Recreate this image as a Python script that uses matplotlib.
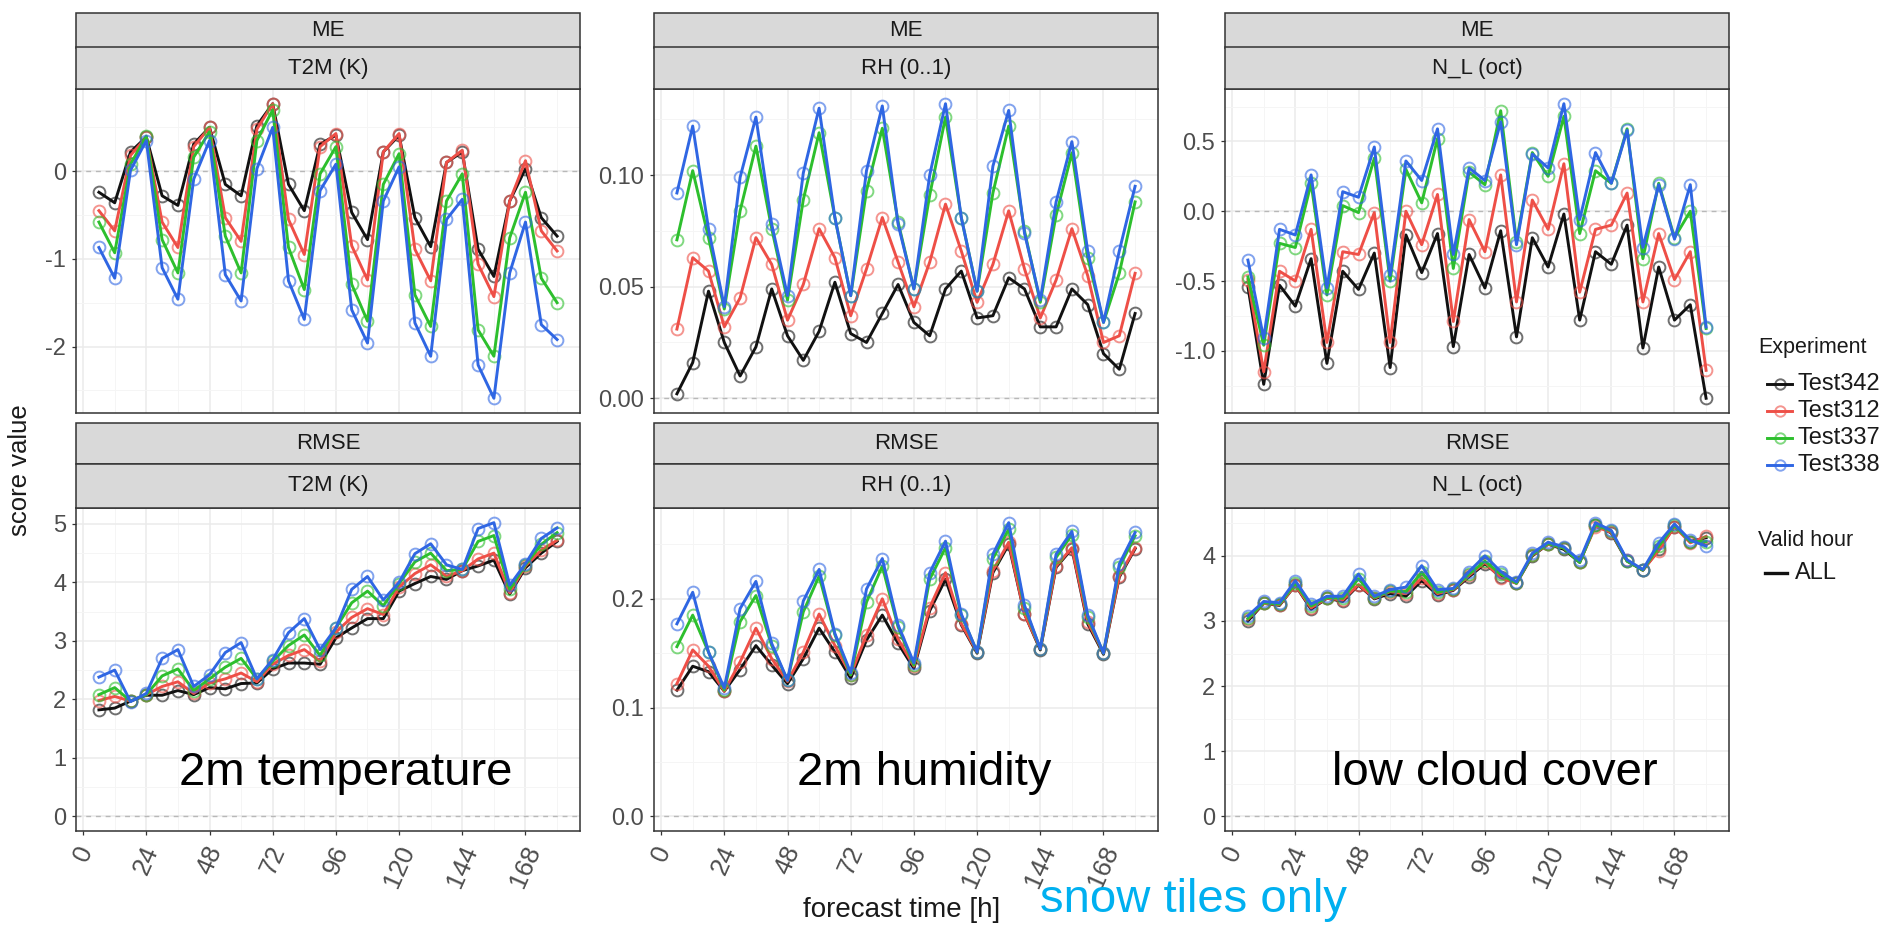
import matplotlib
matplotlib.use('Agg')
import matplotlib.pyplot as plt
from matplotlib.patches import Rectangle
from matplotlib.lines import Line2D
import numpy as np

plt.rcParams['font.family'] = ['Liberation Sans', 'DejaVu Sans']
plt.rcParams['axes.unicode_minus'] = False

# forecast lead times (h)
hours = list(range(6, 181, 6))
experiments = ['Test342', 'Test312', 'Test337', 'Test338']
exp_colors = ['#111111', '#EE4F47', '#2DBF2D', '#2F66E3']

# ---- ME, T2M (K)
me_t2m_342 = [-0.24, -0.36, 0.22, 0.39, -0.28, -0.39, 0.31, 0.50, -0.15, -0.28, 0.52, 0.77, -0.15, -0.45, 0.31,
              0.41, -0.47, -0.78, 0.22, 0.41, -0.53, -0.86, 0.10, 0.22, -0.89, -1.20, -0.34, 0.03, -0.53, -0.74]
me_t2m_312 = [-0.45, -0.68, 0.18, 0.39, -0.58, -0.87, 0.28, 0.50, -0.53, -0.80, 0.48, 0.77, -0.55, -0.95, 0.28,
              0.43, -0.85, -1.24, 0.22, 0.43, -0.89, -1.25, 0.10, 0.24, -1.06, -1.43, -0.34, 0.12, -0.68, -0.91]
me_t2m_337 = [-0.58, -0.93, 0.08, 0.40, -0.78, -1.16, 0.16, 0.45, -0.74, -1.16, 0.35, 0.70, -0.87, -1.35, -0.03,
              0.28, -1.29, -1.71, -0.15, 0.20, -1.41, -1.77, -0.34, -0.03, -1.81, -2.11, -0.76, -0.24, -1.22, -1.50]
me_t2m_338 = [-0.87, -1.22, 0.01, 0.35, -1.10, -1.46, -0.09, 0.35, -1.18, -1.48, 0.03, 0.50, -1.25, -1.69, -0.22,
              0.08, -1.58, -1.96, -0.34, 0.05, -1.73, -2.11, -0.55, -0.32, -2.21, -2.59, -1.16, -0.58, -1.75, -1.92]

# ---- ME, RH (0..1)
me_rh_342 = [0.002, 0.016, 0.048, 0.025, 0.010, 0.023, 0.049, 0.028, 0.017, 0.030, 0.052, 0.029, 0.025, 0.038, 0.051,
             0.034, 0.028, 0.049, 0.057, 0.036, 0.037, 0.054, 0.049, 0.032, 0.032, 0.049, 0.042, 0.020, 0.013, 0.038]
me_rh_312 = [0.031, 0.063, 0.057, 0.032, 0.045, 0.072, 0.060, 0.035, 0.051, 0.076, 0.063, 0.037, 0.058, 0.081, 0.061,
             0.041, 0.061, 0.087, 0.066, 0.043, 0.060, 0.084, 0.058, 0.036, 0.053, 0.076, 0.055, 0.025, 0.028, 0.056]
me_rh_337 = [0.071, 0.102, 0.072, 0.040, 0.084, 0.113, 0.076, 0.044, 0.089, 0.119, 0.081, 0.046, 0.093, 0.121, 0.079,
             0.049, 0.091, 0.126, 0.081, 0.048, 0.092, 0.122, 0.075, 0.043, 0.082, 0.110, 0.063, 0.034, 0.056, 0.088]
me_rh_338 = [0.092, 0.122, 0.076, 0.041, 0.099, 0.126, 0.078, 0.046, 0.101, 0.130, 0.081, 0.046, 0.102, 0.131, 0.078,
             0.049, 0.100, 0.132, 0.081, 0.048, 0.104, 0.129, 0.074, 0.044, 0.088, 0.115, 0.066, 0.034, 0.066, 0.095]

# ---- ME, N_L (oct)
me_nl_342 = [-0.54, -1.24, -0.53, -0.68, -0.34, -1.09, -0.43, -0.56, -0.30, -1.12, -0.17, -0.44, -0.16, -0.97, -0.31,
             -0.55, -0.14, -0.90, -0.19, -0.40, -0.02, -0.78, -0.29, -0.38, -0.10, -0.98, -0.40, -0.78, -0.67, -1.34]
me_nl_312 = [-0.49, -1.15, -0.43, -0.50, -0.13, -0.94, -0.29, -0.31, -0.01, -0.94, 0.00, -0.24, 0.12, -0.79, -0.06,
             -0.29, 0.26, -0.65, 0.08, -0.13, 0.34, -0.58, -0.13, -0.10, 0.13, -0.65, -0.16, -0.49, -0.29, -1.14]
me_nl_337 = [-0.47, -0.96, -0.23, -0.26, 0.20, -0.60, 0.04, -0.01, 0.38, -0.50, 0.30, 0.06, 0.52, -0.41, 0.28,
             0.19, 0.72, -0.22, 0.42, 0.25, 0.68, -0.16, 0.29, 0.20, 0.59, -0.34, 0.20, -0.19, 0.00, -0.84]
me_nl_338 = [-0.35, -0.91, -0.13, -0.17, 0.26, -0.55, 0.14, 0.10, 0.46, -0.46, 0.36, 0.22, 0.59, -0.31, 0.31,
             0.22, 0.64, -0.24, 0.41, 0.31, 0.77, -0.06, 0.42, 0.20, 0.58, -0.26, 0.19, -0.20, 0.19, -0.83]

# ---- RMSE, T2M (K)
rmse_t2m_342 = [1.82, 1.85, 1.97, 2.07, 2.07, 2.15, 2.08, 2.20, 2.18, 2.27, 2.28, 2.52, 2.62, 2.62, 2.60,
                3.05, 3.22, 3.38, 3.38, 3.85, 3.98, 4.10, 4.05, 4.20, 4.28, 4.38, 3.80, 4.25, 4.50, 4.70]
rmse_t2m_312 = [1.98, 2.05, 1.97, 2.08, 2.22, 2.30, 2.10, 2.28, 2.35, 2.45, 2.30, 2.60, 2.75, 2.85, 2.65,
                3.15, 3.40, 3.55, 3.45, 3.92, 4.15, 4.30, 4.10, 4.20, 4.40, 4.50, 3.82, 4.28, 4.55, 4.72]
rmse_t2m_337 = [2.08, 2.20, 1.97, 2.08, 2.40, 2.52, 2.15, 2.35, 2.55, 2.70, 2.35, 2.65, 2.92, 3.10, 2.75,
                3.22, 3.65, 3.85, 3.60, 3.98, 4.35, 4.50, 4.20, 4.22, 4.70, 4.80, 3.88, 4.30, 4.65, 4.85]
rmse_t2m_338 = [2.38, 2.50, 1.96, 2.10, 2.70, 2.85, 2.22, 2.42, 2.80, 2.97, 2.35, 2.68, 3.14, 3.38, 2.85,
                3.22, 3.88, 4.10, 3.70, 4.00, 4.49, 4.66, 4.30, 4.22, 4.92, 5.02, 3.95, 4.32, 4.75, 4.93]

# ---- RMSE, RH (0..1)
rmse_rh_342 = [0.116, 0.138, 0.133, 0.115, 0.135, 0.157, 0.139, 0.122, 0.145, 0.173, 0.151, 0.127, 0.162, 0.185, 0.159,
               0.136, 0.189, 0.218, 0.176, 0.150, 0.224, 0.250, 0.186, 0.153, 0.229, 0.246, 0.177, 0.149, 0.220, 0.246]
rmse_rh_312 = [0.122, 0.153, 0.138, 0.115, 0.142, 0.173, 0.145, 0.124, 0.151, 0.186, 0.157, 0.130, 0.167, 0.200, 0.163,
               0.138, 0.192, 0.224, 0.177, 0.151, 0.226, 0.252, 0.186, 0.154, 0.230, 0.247, 0.179, 0.150, 0.221, 0.247]
rmse_rh_337 = [0.156, 0.185, 0.151, 0.116, 0.179, 0.203, 0.157, 0.125, 0.188, 0.221, 0.167, 0.130, 0.197, 0.230, 0.174,
               0.139, 0.218, 0.247, 0.185, 0.151, 0.237, 0.264, 0.192, 0.154, 0.238, 0.259, 0.183, 0.150, 0.229, 0.258]
rmse_rh_338 = [0.177, 0.206, 0.151, 0.118, 0.191, 0.216, 0.159, 0.125, 0.198, 0.227, 0.168, 0.132, 0.209, 0.237, 0.176,
               0.141, 0.224, 0.253, 0.186, 0.151, 0.241, 0.270, 0.194, 0.154, 0.241, 0.262, 0.185, 0.150, 0.232, 0.261]

# ---- RMSE, N_L (oct)
rmse_nl_342 = [3.00, 3.27, 3.24, 3.55, 3.18, 3.35, 3.30, 3.55, 3.34, 3.42, 3.38, 3.62, 3.40, 3.47, 3.68,
               3.88, 3.68, 3.58, 4.00, 4.18, 4.10, 3.90, 4.48, 4.35, 3.92, 3.78, 4.10, 4.45, 4.22, 4.28]
rmse_nl_312 = [3.03, 3.27, 3.25, 3.55, 3.20, 3.35, 3.32, 3.56, 3.35, 3.45, 3.42, 3.66, 3.42, 3.48, 3.70,
               3.90, 3.66, 3.58, 4.01, 4.18, 4.12, 3.91, 4.45, 4.36, 3.93, 3.78, 4.08, 4.45, 4.20, 4.30]
rmse_nl_337 = [3.04, 3.28, 3.26, 3.58, 3.23, 3.36, 3.35, 3.65, 3.36, 3.46, 3.45, 3.75, 3.44, 3.49, 3.72,
               3.92, 3.72, 3.58, 4.02, 4.19, 4.12, 3.90, 4.48, 4.38, 3.92, 3.78, 4.15, 4.47, 4.22, 4.22]
rmse_nl_338 = [3.08, 3.30, 3.28, 3.62, 3.26, 3.38, 3.38, 3.72, 3.38, 3.48, 3.52, 3.85, 3.48, 3.50, 3.76,
               4.00, 3.76, 3.60, 4.04, 4.21, 4.14, 3.93, 4.51, 4.39, 3.94, 3.79, 4.20, 4.49, 4.24, 4.15]

panels = [
    # (row, col, score, variable, series, yticks, fmt, note)
    (0, 0, 'ME', 'T2M (K)', [me_t2m_342, me_t2m_312, me_t2m_337, me_t2m_338], [-2, -1, 0], '{:.0f}', None),
    (0, 1, 'ME', 'RH (0..1)', [me_rh_342, me_rh_312, me_rh_337, me_rh_338], [0.0, 0.05, 0.10], '{:.2f}', None),
    (0, 2, 'ME', 'N_L (oct)', [me_nl_342, me_nl_312, me_nl_337, me_nl_338], [-1.0, -0.5, 0.0, 0.5], '{:.1f}', None),
    (1, 0, 'RMSE', 'T2M (K)', [rmse_t2m_342, rmse_t2m_312, rmse_t2m_337, rmse_t2m_338], [0, 1, 2, 3, 4, 5], '{:.0f}',
     '2m temperature'),
    (1, 1, 'RMSE', 'RH (0..1)', [rmse_rh_342, rmse_rh_312, rmse_rh_337, rmse_rh_338], [0.0, 0.1, 0.2], '{:.1f}',
     '2m humidity'),
    (1, 2, 'RMSE', 'N_L (oct)', [rmse_nl_342, rmse_nl_312, rmse_nl_337, rmse_nl_338], [0, 1, 2, 3, 4], '{:.0f}',
     'low cloud cover'),
]

W, H = 1895, 927
fig = plt.figure(figsize=(W / 100, H / 100), dpi=100)

# layout in pixels
col_left = [76, 654, 1225]
panel_w = 504
row_box = [(89, 413), (508, 831)]
row_strips = [[(13, 47.5), (47.5, 89)], [(423, 464), (464, 508)]]

strip_fc = '#D9D9D9'
dark = '#333333'
LW, MS, MEW = 2.1, 8.5, 1.4


def fx(px):
    return px / W


def fy(py):
    return 1 - py / H


for row, col, score, var, series, yt, fmt, note in panels:
    x0 = col_left[col]
    top, bot = row_box[row]
    ax = fig.add_axes([fx(x0), fy(bot), panel_w / W, (bot - top) / H])

    for vals, c in zip(series, exp_colors):
        ax.plot(hours, vals, color=c, lw=LW, zorder=3, solid_joinstyle='round')
        ax.plot(hours, vals, ls='none', marker='o', mfc='none', mec=c, ms=MS, mew=MEW,
                alpha=0.6, zorder=3)

    ax.axhline(0, color='#B8B8B8', lw=1.0, ls=(0, (3.5, 3.5)), zorder=2)

    # ggplot-like limits: include 0, 5% expansion
    allv = np.concatenate([np.asarray(s) for s in series])
    lo, hi = min(allv.min(), 0), max(allv.max(), 0)
    pad = 0.05 * (hi - lo)
    ax.set_ylim(lo - pad, hi + pad)
    xpad = 0.05 * (max(hours) - min(hours))
    ax.set_xlim(min(hours) - xpad, max(hours) + xpad)

    ax.set_xticks(range(0, 169, 24))
    ax.set_xticks(range(12, 181, 24), minor=True)
    step = yt[1] - yt[0]
    ymin, ymax = ax.get_ylim()
    ym = [v for v in np.arange(yt[0] - step / 2, yt[-1] + step, step) if ymin < v < ymax]
    ax.set_yticks(yt)
    ax.set_yticks(ym, minor=True)
    ax.set_yticklabels([fmt.format(v) for v in yt])

    ax.grid(which='major', color='#EBEBEB', lw=1.1)
    ax.grid(which='minor', color='#F5F5F5', lw=0.7)
    ax.set_axisbelow(True)
    for s in ax.spines.values():
        s.set_color(dark)
        s.set_linewidth(1.1)

    ax.tick_params(which='minor', length=0)
    ax.tick_params(axis='y', which='major', length=3, width=0.9, color=dark, labelsize=17,
                   labelcolor='#4D4D4D', pad=4)
    if row == 1:
        ax.tick_params(axis='x', which='major', length=3, width=0.9, color=dark, labelsize=18.5,
                       labelcolor='#4D4D4D', pad=5)
        for lab in ax.get_xticklabels():
            lab.set_rotation(66)
            lab.set_ha('center')
            lab.set_va('top')
    else:
        ax.tick_params(axis='x', which='major', length=0, labelbottom=False)

    # facet strips
    for (st, sb), txt in zip(row_strips[row], [score, var]):
        fig.add_artist(Rectangle((fx(x0), fy(sb)), panel_w / W, (sb - st) / H, transform=fig.transFigure,
                                 fc=strip_fc, ec=dark, lw=1.1))
        fig.text(fx(x0 + panel_w / 2), fy((st + sb) / 2), txt, ha='center', va='center',
                 fontsize=16, color='#1A1A1A')

    if note:
        fig.text(fx(x0 + 270), fy(773), note, ha='center', va='center', fontsize=34, color='black')

# axis titles
fig.text(fx(20), fy(470), 'score value', rotation=90, ha='center', va='center', fontsize=18.5, color='#1A1A1A')
fig.text(fx(902), fy(910), 'forecast time [h]', ha='center', va='center', fontsize=20, color='#1A1A1A')
fig.text(fx(1040), fy(900), 'snow tiles only', ha='left', va='center', fontsize=34, color='#00B0F0')

# legends
fig.text(fx(1758), fy(347), 'Experiment', ha='left', va='center', fontsize=15.5, color='#1A1A1A')
leg_rows = [384, 411, 438, 465]
for name, c, yy in zip(experiments, exp_colors, leg_rows):
    fig.add_artist(Line2D([fx(1767), fx(1792)], [fy(yy), fy(yy)], transform=fig.transFigure, color=c, lw=LW))
    fig.add_artist(Line2D([fx(1779.5)], [fy(yy)], transform=fig.transFigure, ls='none', marker='o', mfc='none',
                          mec=c, ms=7.5, mew=MEW, alpha=0.6))
    fig.text(fx(1797), fy(yy), name, ha='left', va='center', fontsize=17, color='#1A1A1A')

fig.text(fx(1758), fy(541), 'Valid hour', ha='left', va='center', fontsize=15.5, color='#1A1A1A')
fig.add_artist(Line2D([fx(1765), fx(1787)], [fy(573), fy(573)], transform=fig.transFigure, color='#111111', lw=2.4))
fig.text(fx(1795), fy(573), 'ALL', ha='left', va='center', fontsize=17, color='#1A1A1A')

fig.savefig('out.png', dpi=100)
